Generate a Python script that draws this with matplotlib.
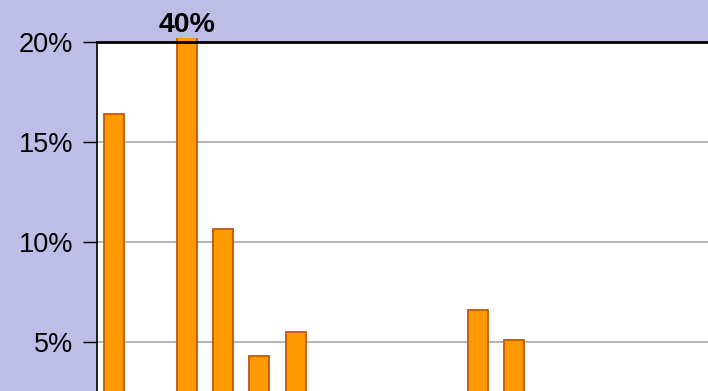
import matplotlib.pyplot as plt
from matplotlib.patches import Rectangle

plt.rcParams['font.family'] = ['Liberation Sans', 'DejaVu Sans']

# category slots that carry a visible bar, and their shares (%)
slots = [0, 2, 3, 4, 5, 10, 11]
shares = [16.4, 40.0, 10.65, 4.3, 5.5, 6.6, 5.1]
outlier_label = "40%"
yticks = [5, 10, 15, 20]
ytick_labels = ["5%", "10%", "15%", "20%"]

W, H = 708, 391
fig = plt.figure(figsize=(W / 100, H / 100), dpi=100)
fig.patch.set_facecolor('#bdbde5')

# plot area: top at 20%, 0% line sits below the bottom edge of the image
left_px, top_px, right_px, zero_px = 97, 42, 740, 442
ax = fig.add_axes([left_px / W, (H - zero_px) / H,
                   (right_px - left_px) / W, (zero_px - top_px) / H])
ax.set_facecolor('white')

slot_px = 36.36
ax.set_xlim(-(114 - left_px) / slot_px, -(114 - left_px) / slot_px + (right_px - left_px) / slot_px)
ax.set_ylim(0, 20)

bars = ax.bar(slots, shares, width=0.55, color='#ff9900',
              edgecolor='#c0580e', linewidth=1.3, zorder=3)
# the outlier bar pokes just above the plot frame
clip = Rectangle((0, 0), 1, 1 + 4 / (zero_px - top_px), transform=ax.transAxes)
for b in bars:
    b.set_clip_path(clip)

ax.text(slots[shares.index(max(shares))], 20.22, outlier_label, ha='center', va='bottom',
        fontsize=20.5, fontweight='bold', color='black', clip_on=False)

ax.set_yticks(yticks)
ax.set_yticklabels(ytick_labels)
ax.set_xticks([])
ax.yaxis.grid(True, color='#a8a8a8', linewidth=1.2, zorder=0)
ax.tick_params(axis='y', length=10, width=1, pad=7, labelsize=19.5, direction='out')

for side in ['right', 'bottom']:
    ax.spines[side].set_visible(False)
ax.spines['left'].set_linewidth(1.2)
ax.spines['top'].set_linewidth(2)
ax.spines['top'].set_zorder(4)

fig.savefig('out.png', dpi=100, facecolor=fig.get_facecolor())
